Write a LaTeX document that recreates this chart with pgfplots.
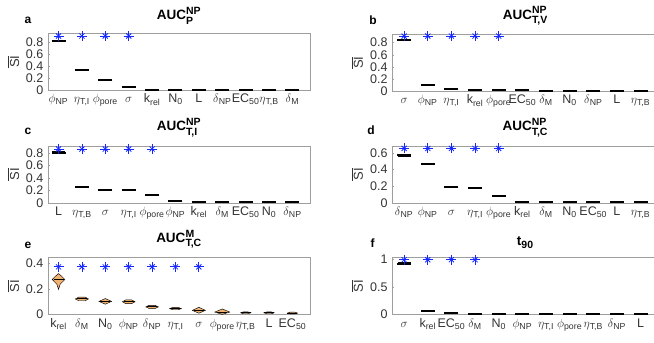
\documentclass[border=0pt]{standalone}
\usepackage{amsmath}
\usepackage{fontspec}
\setmainfont{Liberation Sans}
\usepackage{pgfplots}
\pgfplotsset{compat=1.18}
\definecolor{axgray}{gray}{0.62}
\definecolor{txtgray}{gray}{0.2}
\definecolor{violin}{RGB}{240,178,112}
\definecolor{starblue}{RGB}{20,40,255}
\newcommand{\sub}[1]{\textsubscript{#1}}
\newcommand{\pNP}{$\phi$\sub{NP}}
\newcommand{\pPore}{$\phi$\sub{pore}}
\newcommand{\eTI}{$\eta$\sub{T,I}}
\newcommand{\eTB}{$\eta$\sub{T,B}}
\newcommand{\dNP}{$\delta$\sub{NP}}
\newcommand{\dM}{$\delta$\sub{M}}
\newcommand{\sig}{$\sigma$}
\newcommand{\krel}{k\sub{rel}}
\newcommand{\Nz}{N\sub{0}}
\newcommand{\EC}{EC\sub{50}}
\newcommand{\ttl}[3]{\textbf{#1}$^{\text{\fontsize{10.5}{11}\selectfont\bfseries #2}}_{\text{\fontsize{10.5}{11}\selectfont\bfseries #3}}$}
\pgfplotsset{
 siax/.style={
  scale only axis, width=262pt, height=57pt, anchor=north west,
  xmin=0.55, xmax=11.75, ymin=0,
  xtick={1,...,11},
  axis line style={axgray},
  tick style={axgray}, major tick length=2pt,
  xtick style={draw=none},
  ytick pos=left, tick align=inside,
  tick label style={font=\fontsize{12.5}{13}\selectfont, text=txtgray},
  xticklabel style={text height=9pt, text depth=3pt, inner sep=1pt, yshift=-2.5pt},
  yticklabel style={inner sep=1pt, xshift=-3.5pt},
  /pgf/number format/assume math mode=true,
  ylabel={$\overline{\mbox{SI}}$},
  ylabel style={font=\fontsize{13}{14}\selectfont, text=txtgray, inner sep=0pt,
     at={(axis description cs:-0.132,0.5)}, anchor=center},
  title style={at={(0.5,1)}, anchor=south, inner sep=0pt, yshift=3pt, font=\fontsize{13.5}{15}\selectfont\bfseries},
  clip=false,
 },
 rightax/.style={xmin=0.5, xmax=11.75, width=266pt},
 med/.style={only marks, mark=-, mark size=7pt, mark options={line width=2pt, black}},
 firstmed/.style={only marks, mark=-, mark size=6.5pt, mark options={line width=2.8pt, black}},
 vmed/.style={only marks, mark=-, mark size=5pt, mark options={line width=1.1pt, black}},
 starp/.style={only marks, mark=+, mark size=5pt, mark options={line width=0.8pt, starblue}},
 starx/.style={only marks, mark=x, mark size=3.6pt, mark options={line width=0.8pt, starblue}},
 vio/.style={fill=violin, draw=black, line width=0.45pt},
}
\begin{document}
\begin{tikzpicture}
% ---------- a ----------
\begin{axis}[siax, at={(48pt,-33.3pt)}, ymax=0.95, ytick={0,0.2,0.4,0.6,0.8},
  title={\ttl{AUC}{NP}{P}},
  xticklabels={\pNP,\eTI,\pPore,\sig,\krel,\Nz,L,\dNP,\EC,\eTB,\dM}]
\addplot[firstmed] coordinates {(1,0.822)};
\addplot[med] coordinates {(1,0.822) (2,0.331) (3,0.166) (4,0.055) (5,0.012) (6,0.010) (7,0.010) (8,0.009) (9,0.009) (10,0.009) (11,0.009)};
\addplot[starp] coordinates {(1,0.905) (2,0.905) (3,0.905) (4,0.905)};
\addplot[starx] coordinates {(1,0.905) (2,0.905) (3,0.905) (4,0.905)};
\end{axis}
% ---------- b ----------
\begin{axis}[siax, rightax, at={(392.3pt,-34.3pt)}, ymax=0.935, ytick={0,0.2,0.4,0.6,0.8},
  title={\ttl{AUC}{NP}{T,V}},
  xticklabels={\sig,\pNP,\eTI,\krel,\pPore,\EC,\dM,\Nz,\dNP,L,\eTB}]
\addplot[firstmed] coordinates {(1,0.84)};
\addplot[med] coordinates {(1,0.84) (2,0.10) (3,0.045) (4,0.028) (5,0.017) (6,0.017) (7,0.012) (8,0.012) (9,0.010) (10,0.010) (11,0.010)};
\addplot[starp] coordinates {(1,0.906) (2,0.906) (3,0.906) (4,0.906) (5,0.906)};
\addplot[starx] coordinates {(1,0.906) (2,0.906) (3,0.906) (4,0.906) (5,0.906)};
\end{axis}
% ---------- c ----------
\begin{axis}[siax, at={(48pt,-146pt)}, ymax=0.907, ytick={0,0.2,0.4,0.6,0.8},
  title={\ttl{AUC}{NP}{T,I}},
  xticklabels={L,\eTB,\sig,\eTI,\pPore,\pNP,\krel,\dM,\EC,\Nz,\dNP}]
\addplot[firstmed] coordinates {(1,0.80)};
\addplot[med] coordinates {(1,0.80) (2,0.256) (3,0.213) (4,0.203) (5,0.123) (6,0.025) (7,0.020) (8,0.015) (9,0.015) (10,0.012) (11,0.012)};
\addplot[starp] coordinates {(1,0.859) (2,0.859) (3,0.859) (4,0.859) (5,0.859)};
\addplot[starx] coordinates {(1,0.859) (2,0.859) (3,0.859) (4,0.859) (5,0.859)};
\end{axis}
% ---------- d ----------
\begin{axis}[siax, rightax, at={(392.3pt,-146pt)}, ymax=0.682, ytick={0,0.2,0.4,0.6},
  title={\ttl{AUC}{NP}{T,C}},
  xticklabels={\dNP,\pNP,\sig,\eTI,\pPore,\krel,\dM,\Nz,\EC,L,\eTB}]
\addplot[firstmed] coordinates {(1,0.571)};
\addplot[med] coordinates {(1,0.571) (2,0.461) (3,0.192) (4,0.184) (5,0.082) (6,0.012) (7,0.012) (8,0.010) (9,0.010) (10,0.008) (11,0.008)};
\addplot[starp] coordinates {(1,0.653) (2,0.653) (3,0.653) (4,0.653) (5,0.653)};
\addplot[starx] coordinates {(1,0.653) (2,0.653) (3,0.653) (4,0.653) (5,0.653)};
\end{axis}
% ---------- e ----------
\begin{axis}[siax, at={(48pt,-257.5pt)}, ymax=0.443, ytick={0,0.2,0.4},
  title={\ttl{AUC}{M}{T,C}},
  xticklabels={\krel,\dM,\Nz,\pNP,\dNP,\eTI,\sig,\pPore,\eTB,L,\EC}]
\addplot[vio] coordinates {(1,0.195) (0.93,0.235) (0.73,0.272) (0.88,0.300) (1,0.318) (1.12,0.300) (1.27,0.272) (1.07,0.235)} -- cycle;
\addplot[vio] coordinates {(1.72,0.121) (1.86,0.135) (2.14,0.135) (2.28,0.121) (2.14,0.107) (1.86,0.107)} -- cycle;
\addplot[vio] coordinates {(2.73,0.102) (3,0.124) (3.27,0.102) (3,0.080)} -- cycle;
\addplot[vio] coordinates {(3.73,0.099) (3.87,0.113) (4.13,0.113) (4.27,0.099) (4.13,0.085) (3.87,0.085)} -- cycle;
\addplot[vio] coordinates {(4.73,0.059) (4.87,0.071) (5.13,0.071) (5.27,0.059) (5.13,0.047) (4.87,0.047)} -- cycle;
\addplot[vio] coordinates {(5.75,0.046) (5.88,0.055) (6.12,0.055) (6.25,0.046) (6.12,0.037) (5.88,0.037)} -- cycle;
\addplot[vio] coordinates {(6.72,0.032) (7,0.056) (7.28,0.032) (7,0.010)} -- cycle;
\addplot[vio] coordinates {(7.68,0.019) (8,0.043) (8.32,0.019) (8,0.001)} -- cycle;
\addplot[vio] coordinates {(8.78,0.013) (8.9,0.020) (9.1,0.020) (9.22,0.013) (9.1,0.006) (8.9,0.006)} -- cycle;
\addplot[vio] coordinates {(9.78,0.013) (9.9,0.020) (10.1,0.020) (10.22,0.013) (10.1,0.006) (9.9,0.006)} -- cycle;
\addplot[vio] coordinates {(10.78,0.011) (10.9,0.018) (11.1,0.018) (11.22,0.011) (11.1,0.004) (10.9,0.004)} -- cycle;
\addplot[vmed] coordinates {(1,0.274) (2,0.121) (3,0.102) (4,0.099) (5,0.059) (6,0.046) (7,0.032) (8,0.019) (9,0.013) (10,0.013) (11,0.011)};
\addplot[starp] coordinates {(1,0.37) (2,0.37) (3,0.37) (4,0.37) (5,0.37) (6,0.37) (7,0.37)};
\addplot[starx] coordinates {(1,0.37) (2,0.37) (3,0.37) (4,0.37) (5,0.37) (6,0.37) (7,0.37)};
\end{axis}
% ---------- f ----------
\begin{axis}[siax, rightax, at={(392.3pt,-257.5pt)}, ymax=1.03, ytick={0,0.5,1},
  title={\textbf{t}$_{\text{\fontsize{10.5}{11}\selectfont\bfseries 90}}$},
  xticklabels={\sig,\krel,\EC,\dM,\Nz,\pNP,\eTI,\pPore,\eTB,\dNP,L}]
\addplot[firstmed] coordinates {(1,0.92)};
\addplot[med] coordinates {(1,0.92) (2,0.06) (3,0.03) (4,0.018) (5,0.015) (6,0.012) (7,0.010) (8,0.010) (9,0.010) (10,0.010) (11,0.010)};
\addplot[starp] coordinates {(1,0.99) (2,0.99) (3,0.99) (4,0.99)};
\addplot[starx] coordinates {(1,0.99) (2,0.99) (3,0.99) (4,0.99)};
\end{axis}
% panel letters
\begin{scope}[every node/.style={font=\fontsize{12}{13}\selectfont\bfseries, inner sep=0pt}]
\node at (28pt,-20pt) {a};
\node at (373pt,-20pt) {b};
\node at (28pt,-131pt) {c};
\node at (371pt,-130pt) {d};
\node at (28pt,-245pt) {e};
\node at (372.5pt,-243pt) {f};
\end{scope}
\pgfresetboundingbox
\path (0pt,0pt) rectangle (654pt,-343pt);
\end{tikzpicture}
\end{document}
